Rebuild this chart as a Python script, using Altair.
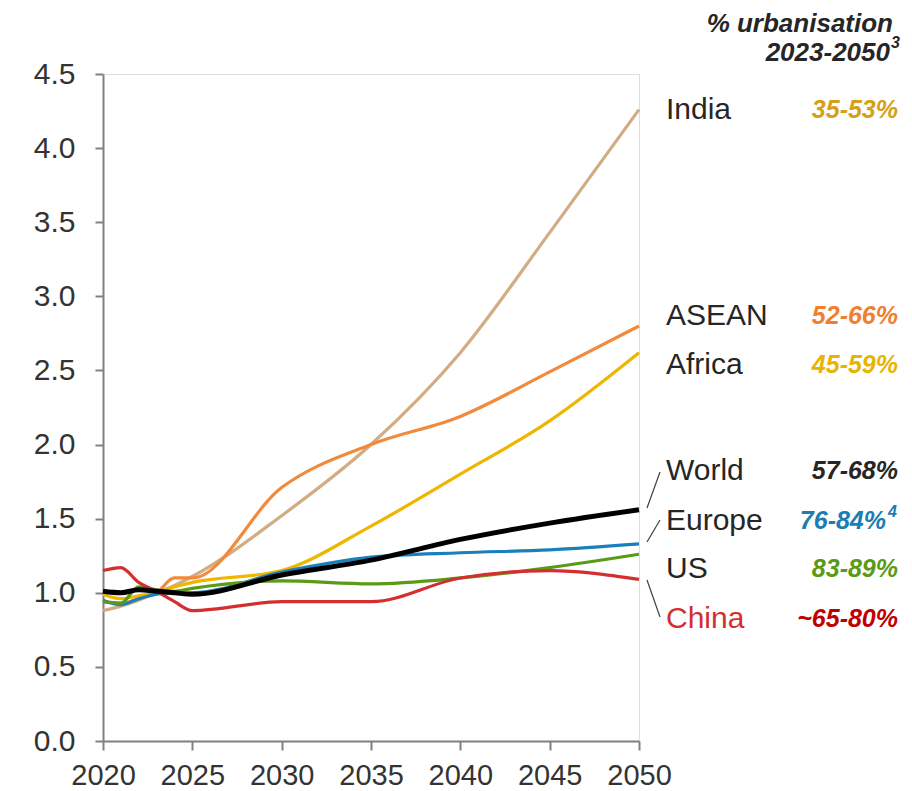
import altair as alt
import pandas as pd

years = [2020, 2021, 2022, 2023, 2024, 2025, 2030, 2035, 2040, 2045, 2050]

india  = [0.88, 0.91, 0.95, 1.00, 1.05, 1.11, 1.52, 2.00, 2.62, 3.43, 4.26]
asean  = [0.94, 0.93, 0.96, 1.00, 1.10, 1.10, 1.71, 2.00, 2.19, 2.49, 2.80]
africa = [0.99, 0.96, 0.98, 1.00, 1.04, 1.07, 1.15, 1.45, 1.80, 2.16, 2.62]
world  = [1.01, 1.00, 1.02, 1.01, 1.00, 0.99, 1.12, 1.22, 1.36, 1.47, 1.56]
europe = [0.95, 0.92, 0.96, 0.99, 1.00, 1.00, 1.14, 1.24, 1.27, 1.29, 1.33]
us     = [0.94, 0.93, 1.04, 1.02, 1.01, 1.03, 1.08, 1.06, 1.10, 1.17, 1.26]
china  = [1.15, 1.17, 1.07, 1.01, 0.94, 0.88, 0.94, 0.94, 1.10, 1.15, 1.09]

series_names = ["India", "ASEAN", "Africa", "Europe", "US", "China", "World"]
series_vals = [india, asean, africa, europe, us, china, world]
line_colors = ["#D2AC82", "#F28A3C", "#EFB600", "#1A80BC", "#5A9A16", "#D42F2F", "#000000"]

label_texts = ["India", "ASEAN", "Africa", "World", "Europe", "US", "China"]
pct_texts = ["35-53%", "52-66%", "45-59%", "57-68%", "76-84%", "83-89%", "~65-80%"]
pct_colors = ["#D4A017", "#F07F32", "#E8B400", "#262626", "#1A7DB5", "#5A9A16", "#C00000"]
label_colors = ["#262626", "#262626", "#262626", "#262626", "#262626", "#262626", "#D42F2F"]
y_ticks = [0.0, 0.5, 1.0, 1.5, 2.0, 2.5, 3.0, 3.5, 4.0, 4.5]
x_ticks = [2020, 2025, 2030, 2035, 2040, 2045, 2050]

rows = []
for name, vals in zip(series_names, series_vals):
    for yr, v in zip(years, vals):
        rows.append({"year": yr, "value": v, "series": name})
df = pd.DataFrame(rows)

W, H = 536, 667
FONT = "Liberation Sans"

x_enc = alt.X("year:Q", scale=alt.Scale(domain=[2020, 2050], nice=False, zero=False),
              axis=alt.Axis(values=x_ticks, format="d", title=None, grid=False,
                            labelFontSize=29, labelFont=FONT, labelColor="#333333",
                            tickSize=9, tickColor="#808080", tickWidth=2,
                            domainColor="#808080", domainWidth=2, labelPadding=11,
                            labelFlush=False))
y_enc = alt.Y("value:Q", scale=alt.Scale(domain=[0, 4.5], nice=False),
              axis=alt.Axis(values=y_ticks, format=".1f", title=None, grid=False,
                            labelFontSize=30, labelFont=FONT, labelColor="#333333",
                            tickSize=8, tickColor="#808080", tickWidth=2,
                            domainColor="#808080", domainWidth=2, labelPadding=20))

others = df[df.series != "World"]
lines = alt.Chart(others).mark_line(strokeWidth=3.2, interpolate="monotone").encode(
    x=x_enc, y=y_enc,
    color=alt.Color("series:N", scale=alt.Scale(domain=series_names, range=line_colors), legend=None),
    order=alt.Order("year:Q"),
)
world_line = alt.Chart(df[df.series == "World"]).mark_line(
    strokeWidth=5, interpolate="monotone", color="#000000").encode(x="year:Q", y="value:Q")

layers = [lines, world_line]

label_y = [36, 242, 291, 397, 447, 495, 545]
for txt, col, yy in zip(label_texts, label_colors, label_y):
    layers.append(alt.Chart(pd.DataFrame({"t": [txt]})).mark_text(
        font=FONT, fontSize=30, align="left", baseline="middle", color=col
    ).encode(x=alt.value(563), y=alt.value(yy), text="t:N"))

pct_right = [795, 795, 795, 795, 783, 795, 795]
for txt, col, yy, xr in zip(pct_texts, pct_colors, label_y, pct_right):
    layers.append(alt.Chart(pd.DataFrame({"t": [txt]})).mark_text(
        font=FONT, fontSize=25, fontWeight="bold", fontStyle="italic",
        align="right", baseline="middle", color=col
    ).encode(x=alt.value(xr), y=alt.value(yy), text="t:N"))

# superscript for Europe
layers.append(alt.Chart(pd.DataFrame({"t": ["4"]})).mark_text(
    font=FONT, fontSize=16, fontWeight="bold", fontStyle="italic",
    align="left", baseline="middle", color="#1A7DB5"
).encode(x=alt.value(785), y=alt.value(438), text="t:N"))

# header
header = [("% urbanisation", 790, -50, 26), ("2023-2050", 787, -21, 26)]
for txt, xx, yy, fs in header:
    layers.append(alt.Chart(pd.DataFrame({"t": [txt]})).mark_text(
        font=FONT, fontSize=fs, fontWeight="bold", fontStyle="italic",
        align="right", baseline="middle", color="#262626"
    ).encode(x=alt.value(xx), y=alt.value(yy), text="t:N"))
layers.append(alt.Chart(pd.DataFrame({"t": ["3"]})).mark_text(
    font=FONT, fontSize=16, fontWeight="bold", fontStyle="italic",
    align="left", baseline="middle", color="#262626"
).encode(x=alt.value(788), y=alt.value(-31), text="t:N"))

# leader lines
leaders = [(544, 434, 557, 398), (544, 468, 557, 446), (544, 506, 557, 543)]
for x1, y1, x2, y2 in leaders:
    layers.append(alt.Chart(pd.DataFrame({"a": [0]})).mark_rule(
        color="#404040", strokeWidth=1.2
    ).encode(x=alt.value(x1), y=alt.value(y1), x2=alt.value(x2), y2=alt.value(y2)))

chart = alt.layer(*layers).properties(
    width=W, height=H,
    autosize=alt.AutoSizeParams(type="none"),
    padding={"left": 103, "top": 74, "right": 273, "bottom": 50},
).configure_view(stroke=None, clip=False).configure(background="white")

chart.save("out.html", embed_options={"renderer": "svg", "actions": False})
